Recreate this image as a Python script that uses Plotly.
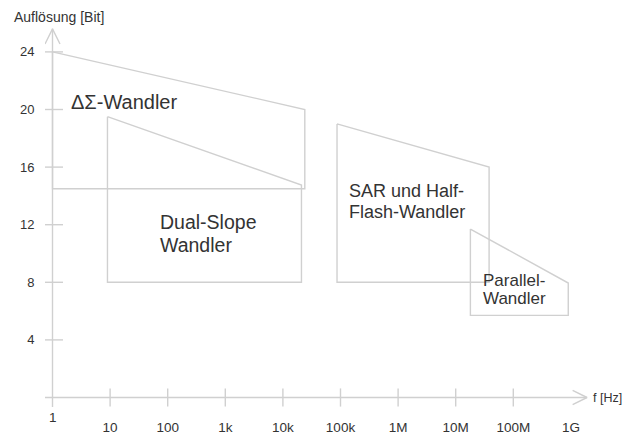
import math
import plotly.graph_objects as go

# ---- data (frequency in Hz, resolution in bit) ----
deltasigma_f = [1, 24e3, 24e3, 1, 1]
deltasigma_bits = [24, 20, 14.5, 14.5, 24]

dualslope_f = [9, 21e3, 21e3, 9, 9]
dualslope_bits = [19.5, 14.75, 8, 8, 19.5]

sar_f = [87e3, 38e6, 38e6, 87e3, 87e3]
sar_bits = [19, 16, 8, 8, 19]

parallel_f = [18e6, 9e8, 9e8, 18e6, 18e6]
parallel_bits = [11.7, 7.95, 5.7, 5.7, 11.7]

x_tick_vals = [1, 10, 100, 1e3, 1e4, 1e5, 1e6, 1e7, 1e8, 1e9]
x_tick_text = ["1", "10", "100", "1k", "10k", "100k", "1M", "10M", "100M", "1G"]
y_tick_vals = [4, 8, 12, 16, 20, 24]
y_tick_text = ["4", "8", "12", "16", "20", "24"]

# ---- style ----
LINE = "#d0d0d0"
TEXT = "#333333"
FONT = "Liberation Sans, Arial, sans-serif"

X_RANGE = [-0.1302, 9.3316]   # log10 units
Y_RANGE = [-0.729, 25.729]

fig = go.Figure()

def seg(x, y):
    fig.add_trace(go.Scatter(x=x, y=y, mode="lines",
                             line=dict(color=LINE, width=1.4),
                             hoverinfo="skip", showlegend=False))

# axes lines
x_lo = 10 ** X_RANGE[0]
x_tip = 10 ** 9.28
seg([x_lo, x_tip], [0, 0])
seg([1, 1], [-0.66, 25.6])
# arrow heads (open chevrons)
seg([10 ** -0.13, 1, 10 ** 0.13], [24.55, 25.6, 24.55])
seg([10 ** 9.03, x_tip, 10 ** 9.03], [0.49, 0, -0.49])
# tick marks crossing the axes
fig.add_trace(go.Scatter(x=x_tick_vals[1:-1], y=[0] * (len(x_tick_vals) - 2), mode="markers",
                         marker=dict(symbol="line-ns", size=13, line=dict(color=LINE, width=1.4)),
                         showlegend=False, hoverinfo="skip"))
fig.add_trace(go.Scatter(x=[1] * len(y_tick_vals), y=y_tick_vals, mode="markers",
                         marker=dict(symbol="line-ew", size=15, line=dict(color=LINE, width=1.4)),
                         showlegend=False, hoverinfo="skip"))

seg(deltasigma_f, deltasigma_bits)
seg(dualslope_f, dualslope_bits)
seg(sar_f, sar_bits)
seg(parallel_f, parallel_bits)

def label(text, xlog, y, size):
    fig.add_annotation(x=xlog, y=y, xref="x", yref="y", text=text, showarrow=False,
                       xanchor="left", yanchor="middle",
                       font=dict(family=FONT, size=size, color=TEXT))

label("ΔΣ-Wandler", 0.28, 20.5, 20)
label("Dual-Slope", 1.83, 12.2, 19.5)
label("Wandler", 1.83, 10.6, 19.5)
label("SAR und Half-", 5.11, 14.35, 18)
label("Flash-Wandler", 5.11, 12.85, 18)
label("Parallel-", 7.44, 8.15, 17)
label("Wandler", 7.44, 6.85, 17)

# axis titles
fig.add_annotation(x=-0.0606, y=1, xref="paper", yref="paper", text="Auflösung [Bit]",
                   showarrow=False, xanchor="left", yanchor="middle", yshift=10.5,
                   font=dict(family=FONT, size=14, color=TEXT))
fig.add_annotation(x=1.0015, y=0, xref="paper", yref="y", text="f [Hz]", showarrow=False,
                   xanchor="left", yanchor="middle",
                   font=dict(family=FONT, size=12.5, color=TEXT))
# "1" label sits higher, centered under the y-axis
fig.add_annotation(x=0, y=0, xref="x", yref="y", text="1", showarrow=False,
                   xanchor="center", yanchor="top", yshift=-10,
                   font=dict(family=FONT, size=13.5, color=TEXT))

fig.update_xaxes(type="log", range=X_RANGE, showgrid=False, zeroline=False, showline=False,
                 tickvals=x_tick_vals, ticktext=[""] + x_tick_text[1:],
                 ticks="outside", ticklen=7, tickcolor="rgba(0,0,0,0)",
                 tickfont=dict(family=FONT, size=13.5, color=TEXT), automargin=False)
fig.update_yaxes(range=Y_RANGE, showgrid=False, zeroline=False, showline=False,
                 tickvals=y_tick_vals, ticktext=y_tick_text,
                 ticks="outside", ticklen=7, tickcolor="rgba(0,0,0,0)",
                 tickfont=dict(family=FONT, size=13, color=TEXT), automargin=False)

# page body has an 8px default margin: the figure is sized to fill the rest of the window
fig.update_layout(width=622, height=426, margin=dict(l=37, r=40, t=19, b=26),
                  plot_bgcolor="white", paper_bgcolor="white", showlegend=False)

fig.write_html("out.html")
